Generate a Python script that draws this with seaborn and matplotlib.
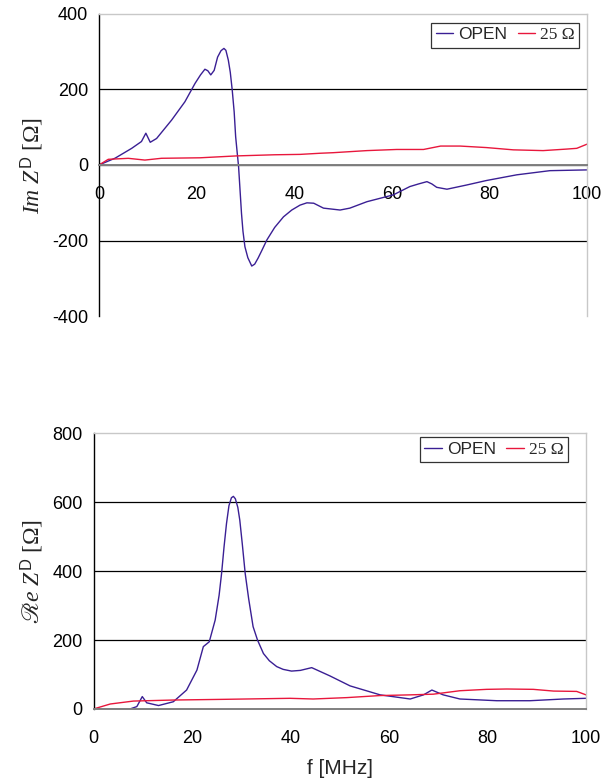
import matplotlib
matplotlib.use("Agg")
import matplotlib.pyplot as plt
import seaborn as sns
import pandas as pd

# Imaginary part of Z^D [Ohm] vs frequency [MHz]
im_open_f = [0, 3.3, 6.7, 8.7, 9.6, 10.5, 11.8, 14.9, 17.6, 19.7, 20.8, 21.7, 22.3, 22.9,
             23.6, 24.3, 25.0, 25.6, 26.0, 26.5, 26.9, 27.3, 27.7, 28.0, 28.3, 28.6, 29.2,
             29.5, 29.9, 30.5, 31.3, 31.9, 32.6, 33.4, 34.4, 36.0, 37.8, 39.5, 41.2,
             42.6, 44.0, 46.0, 49.4, 51.4, 54.9, 60.3, 63.7, 65.5, 67.2, 68.2, 69.2, 71.3,
             75.3, 79.4, 85.6, 92.4, 100]
im_open_v = [0, 18, 44, 62, 84, 60, 70, 119, 167, 216, 238, 253, 249, 238,
             250, 285, 302, 308, 303, 277, 245, 198, 140, 75, 35, -4, -128,
             -175, -216, -245, -267, -262, -246, -225, -198, -165, -137, -119, -106,
             -100, -101, -114, -119, -114, -97, -79, -57, -50, -44, -50, -59, -64,
             -53, -41, -26, -15, -13]

im_25_f = [0, 1.9, 6, 9.4, 12.8, 20.7, 28.2, 36, 41.2, 45.3, 48, 54.9, 61, 66.5, 70, 74,
           79.4, 84.9, 91, 95.8, 97.9, 100]
im_25_v = [0, 15, 17.6, 13, 17.7, 19, 24, 27, 28, 31, 32.5, 38, 41, 41, 50, 50,
           46, 40, 38, 42, 44, 55]

# Real part of Z^D [Ohm] vs frequency [MHz]
re_open_f = [0, 7.4, 8.8, 9.9, 10.8, 13.2, 16.2, 18.9, 21.0, 22.3, 23.5, 24.7, 25.5, 26.0,
             26.5, 27.0, 27.5, 28.0, 28.4, 28.8, 29.3, 29.7, 30.2, 30.8, 31.5, 32.4, 33.3,
             34.5, 35.7, 37.2, 38.5, 40.2, 42.0, 44.3, 48.0, 52.1, 58.2, 64.3, 67.0,
             68.7, 71.0, 74.4, 81.9, 88.6, 95.4, 100]
re_open_v = [0, 0, 7, 36, 18, 10, 21, 55, 113, 181, 195, 258, 330, 393,
             470, 538, 590, 613, 617, 610, 585, 548, 480, 393, 320, 239, 200,
             161, 140, 123, 115, 110, 112, 120, 96, 67, 41, 29, 41,
             55, 41, 29, 24, 24, 29, 31]

re_25_f = [0, 3.4, 8.1, 16.2, 26.4, 39.9, 44.6, 51.4, 58.2, 64.3, 69, 74.4, 79.8, 83.9,
           89.3, 93.4, 98.1, 100]
re_25_v = [0, 14.5, 23, 26, 28, 31, 29, 33, 39, 41, 43, 53, 57, 58,
           57, 52, 51, 41]

series_names = ["OPEN", "25 \u03a9"]
x_ticks = [0, 20, 40, 60, 80, 100]
im_ticks = [-400, -200, 0, 200, 400]
re_ticks = [0, 200, 400, 600, 800]

sns.set_theme(style="white")
plt.rcParams["font.family"] = ["Liberation Sans", "DejaVu Sans"]
plt.rcParams["axes.unicode_minus"] = False
# serif math text with a sans superscript; script letters come from STIX
plt.rcParams["mathtext.fontset"] = "custom"
plt.rcParams["mathtext.rm"] = "Liberation Serif"
plt.rcParams["mathtext.it"] = "Liberation Serif:italic"
plt.rcParams["mathtext.sf"] = "Liberation Sans"
plt.rcParams["mathtext.fallback"] = "stix"

PURPLE = "#3a1f94"
RED = "#e8173c"
palette = {series_names[0]: PURPLE, series_names[1]: RED}


def frame(f_open, v_open, f_25, v_25):
    return pd.concat([
        pd.DataFrame({"f": f_open, "v": v_open, "s": series_names[0]}),
        pd.DataFrame({"f": f_25, "v": v_25, "s": series_names[1]}),
    ], ignore_index=True)


fig = plt.figure(figsize=(6.10, 7.81), dpi=100)
ax1 = fig.add_axes([0.1623, 0.5949, 0.8, 0.3877])
ax2 = fig.add_axes([0.1533, 0.0922, 0.8074, 0.353])


def style(ax, yticks, legend_anchor):
    ax.set_xlim(0, 100)
    ax.set_ylim(yticks[0], yticks[-1])
    ax.set_xticks(x_ticks)
    ax.set_yticks(yticks)
    ax.tick_params(axis="both", labelsize=13, colors="black", direction="out")
    ax.tick_params(axis="y", length=4, width=0.8, pad=4, color="black")
    ax.tick_params(axis="x", length=4, width=0.8, pad=11, color="#808080")
    for t in yticks[1:-1]:
        ax.axhline(t, color="black", lw=0.9, zorder=0.5)
    ax.spines["left"].set_color("black")
    ax.spines["left"].set_linewidth(1.0)
    ax.spines["top"].set_color("#c8c8c8")
    ax.spines["right"].set_color("#c8c8c8")
    ax.spines["top"].set_linewidth(1.0)
    ax.spines["right"].set_linewidth(1.0)
    ax.spines["bottom"].set_color("#808080")
    ax.spines["bottom"].set_linewidth(1.4)
    ax.spines["bottom"].set_zorder(3)
    leg = ax.legend(loc="upper right", bbox_to_anchor=legend_anchor, ncol=2,
                    frameon=True, fancybox=False, edgecolor="black", fontsize=12.5,
                    handlelength=1.0, handletextpad=0.3, columnspacing=0.6,
                    borderpad=0.25, borderaxespad=0.0)
    leg.get_frame().set_linewidth(0.9)
    leg.get_texts()[1].set_family(["Liberation Serif", "DejaVu Serif"])


df_im = frame(im_open_f, im_open_v, im_25_f, im_25_v)
sns.lineplot(data=df_im, x="f", y="v", hue="s", palette=palette, sort=False,
             estimator=None, lw=1.0, ax=ax1)
ax1.spines["bottom"].set_position(("data", 0))
style(ax1, im_ticks, (0.984, 0.969))
ax1.set_xlabel("")
ax1.set_ylabel(r"$\mathit{Im}\ Z^{\mathsf{D}}\ [\Omega]$", fontsize=17, labelpad=5)

df_re = frame(re_open_f, re_open_v, re_25_f, re_25_v)
sns.lineplot(data=df_re, x="f", y="v", hue="s", palette=palette, sort=False,
             estimator=None, lw=1.0, ax=ax2)
style(ax2, re_ticks, (0.963, 0.985))
ax2.set_xlabel("f [MHz]", fontsize=15, labelpad=9)
ax2.set_ylabel("$\u211b\\mathit{e}\\ Z^{\\mathsf{D}}\\ [\\Omega]$", fontsize=17, labelpad=5)

fig.savefig("out.png", dpi=100)
